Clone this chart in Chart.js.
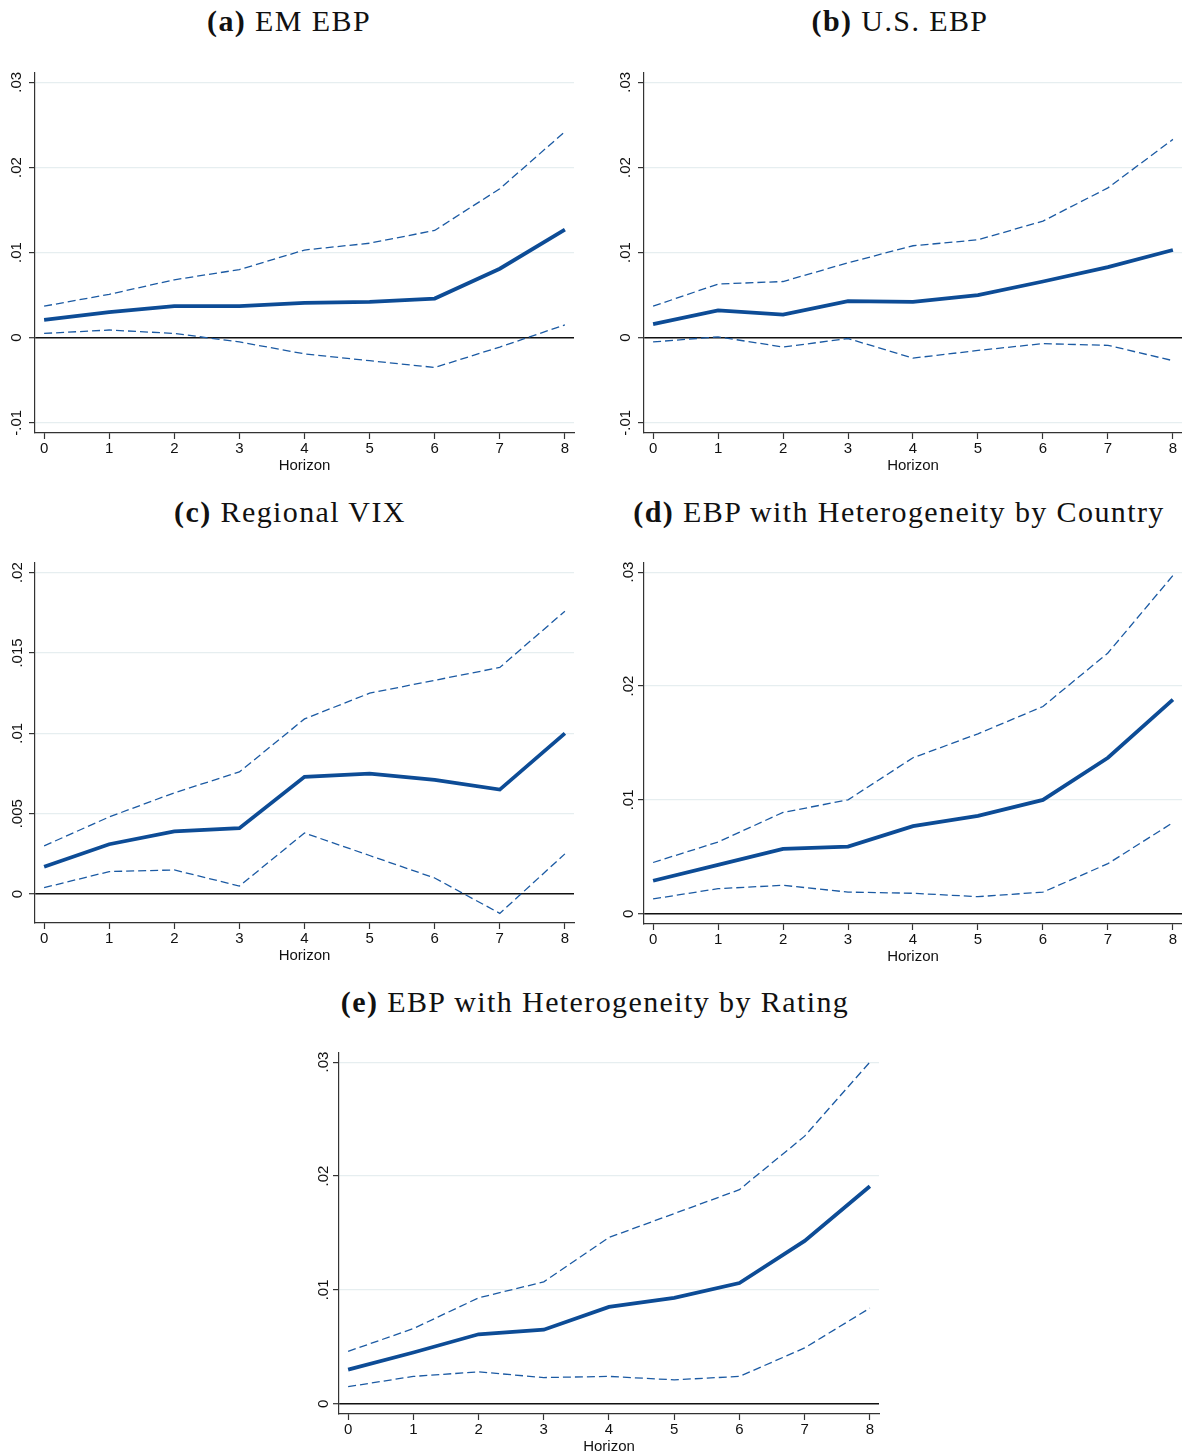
<!DOCTYPE html>
<html>
<head>
<meta charset="utf-8">
<script src="https://cdn.jsdelivr.net/npm/chart.js@4.4.1/dist/chart.umd.min.js"></script>
<style>
  body { margin: 0; background: #fff; width: 1182px; height: 1456px; position: relative; overflow: hidden; }
  .panel { position: absolute; }
  .ttl { position: absolute; font-family: "Liberation Serif", "DejaVu Serif", serif; font-size: 30px; letter-spacing: 1.4px; color: #111; white-space: nowrap; transform: translateX(-50%); line-height: 1; }
  .ttl b { font-weight: bold; }
</style>
</head>
<body>
<div class="ttl" style="left:289px; top:6px;"><b>(a)</b> EM EBP</div>
<div class="ttl" style="left:900px; top:6px;"><b>(b)</b> U.S. EBP</div>
<div class="ttl" style="left:290px; top:497px;"><b>(c)</b> Regional VIX</div>
<div class="ttl" style="left:899px; top:497px;"><b>(d)</b> EBP with Heterogeneity by Country</div>
<div class="ttl" style="left:595px; top:987px;"><b>(e)</b> EBP with Heterogeneity by Rating</div>
<script>
// horizons on the x axis
const horizon = [0, 1, 2, 3, 4, 5, 6, 7, 8];

// (a) EM EBP
const emIrf   = [0.0021, 0.0030, 0.0037, 0.0037, 0.0041, 0.0042, 0.0046, 0.0081, 0.0127];
const emUpper = [0.0037, 0.0051, 0.0068, 0.0080, 0.0103, 0.0111, 0.0126, 0.0175, 0.0242];
const emLower = [0.0005, 0.0009, 0.0005, -0.0005, -0.0019, -0.0027, -0.0035, -0.0011, 0.0015];

// (b) U.S. EBP
const usIrf   = [0.0016, 0.0032, 0.0027, 0.0043, 0.0042, 0.0050, 0.0066, 0.0083, 0.0103];
const usUpper = [0.0037, 0.0063, 0.0066, 0.0088, 0.0108, 0.0115, 0.0137, 0.0176, 0.0233];
const usLower = [-0.0005, 0.0001, -0.0011, -0.0001, -0.0024, -0.0015, -0.0007, -0.0009, -0.0027];

// (c) Regional VIX
const vixIrf   = [0.0017, 0.0031, 0.0039, 0.0041, 0.0073, 0.0075, 0.0071, 0.0065, 0.0100];
const vixUpper = [0.0030, 0.0048, 0.0063, 0.0076, 0.0109, 0.0125, 0.0133, 0.0141, 0.0176];
const vixLower = [0.0004, 0.0014, 0.0015, 0.0005, 0.0038, 0.0024, 0.0010, -0.0012, 0.0025];

// (d) EBP with heterogeneity by country
const ctyIrf   = [0.0029, 0.0043, 0.0057, 0.0059, 0.0077, 0.0086, 0.0100, 0.0137, 0.0188];
const ctyUpper = [0.0045, 0.0063, 0.0089, 0.0100, 0.0137, 0.0158, 0.0182, 0.0229, 0.0297];
const ctyLower = [0.0013, 0.0022, 0.0025, 0.0019, 0.0018, 0.0015, 0.0019, 0.0044, 0.0080];

// (e) EBP with heterogeneity by rating
const ratIrf   = [0.0030, 0.0045, 0.0061, 0.0065, 0.0085, 0.0093, 0.0106, 0.0143, 0.0191];
const ratUpper = [0.0046, 0.0066, 0.0093, 0.0107, 0.0146, 0.0167, 0.0188, 0.0235, 0.0300];
const ratLower = [0.0015, 0.0024, 0.0028, 0.0023, 0.0024, 0.0021, 0.0024, 0.0049, 0.0084];

// y tick values and labels
const ticksWide   = [-0.01, 0, 0.01, 0.02, 0.03];
const labelsWide  = ['-.01', '0', '.01', '.02', '.03'];
const ticksVix    = [0, 0.005, 0.01, 0.015, 0.02];
const labelsVix   = ['0', '.005', '.01', '.015', '.02'];
const ticksPos    = [0, 0.01, 0.02, 0.03];
const labelsPos   = ['0', '.01', '.02', '.03'];

const LINE = '#0d4c96';
const DASH = '#1b5aa3';
const YW = 35, PADTOP = 12, XH = 42, PADR = 4;

function makePanel(id, area, yr, irf, upper, lower, tickVals, tickLabels, labelPad) {
    //area = chart area in page pixels [left, top, right, bottom]
    let w = area[2] - area[0] + YW + PADR;
    let h = area[3] - area[1] + PADTOP + XH;
    let div = document.createElement('div');
    div.className = 'panel';
    div.style.left = (area[0] - YW) + 'px';
    div.style.top = (area[1] - PADTOP) + 'px';
    div.style.width = w + 'px';
    div.style.height = h + 'px';
    document.body.appendChild(div);
    let cv = document.createElement('canvas');
    cv.id = id;
    cv.width = w;
    cv.height = h;
    div.appendChild(cv);

    let pts = arr => horizon.map((hz, i) => ({x: hz, y: arr[i]}));

    new Chart(cv.getContext('2d'), {
        type: 'line',
        data: {
            datasets: [
                { data: pts(upper), borderColor: DASH, borderWidth: 1.3, borderDash: [8, 4], pointRadius: 0, tension: 0, fill: false },
                { data: pts(lower), borderColor: DASH, borderWidth: 1.3, borderDash: [8, 4], pointRadius: 0, tension: 0, fill: false },
                { data: pts(irf), borderColor: LINE, borderWidth: 3.8, pointRadius: 0, tension: 0, fill: false }
            ]
        },
        options: {
            responsive: false,
            animation: false,
            devicePixelRatio: 1,
            events: [],
            layout: { padding: { top: PADTOP, right: PADR, left: 0, bottom: 0 } },
            plugins: { legend: { display: false }, tooltip: { enabled: false }, title: { display: false } },
            scales: {
                x: {
                    type: 'linear',
                    min: -0.14,
                    max: 8.14,
                    afterBuildTicks: s => { s.ticks = horizon.map(v => ({value: v})); },
                    afterFit: s => { s.height = XH; },
                    border: { color: '#333', width: 1.2 },
                    grid: { drawOnChartArea: false, drawTicks: true, tickLength: 6, tickColor: '#333', tickWidth: 1.2 },
                    ticks: { color: '#111', font: { family: "'Liberation Sans', Arial, sans-serif", size: 15 }, padding: 1, maxRotation: 0, callback: v => String(v) },
                    title: { display: true, text: 'Horizon', color: '#111', font: { family: "'Liberation Sans', Arial, sans-serif", size: 15 }, padding: { top: 0, bottom: 0 } }
                },
                y: {
                    type: 'linear',
                    min: yr[0],
                    max: yr[1],
                    afterBuildTicks: s => { s.ticks = tickVals.map(v => ({value: v})); },
                    afterFit: s => { s.width = YW; },
                    border: { color: '#333', width: 1.2 },
                    grid: {
                        drawTicks: true, tickLength: 6, tickColor: '#333', tickWidth: 1.2,
                        color: c => (c.tick && c.tick.value === 0) ? '#111' : '#e6eef0',
                        lineWidth: c => (c.tick && c.tick.value === 0) ? 1.4 : 1.2
                    },
                    ticks: {
                        color: '#111', font: { family: "'Liberation Sans', Arial, sans-serif", size: 15 },
                        minRotation: 90, maxRotation: 90, crossAlign: 'center', padding: labelPad,
                        callback: v => { let k = tickVals.indexOf(v); return k >= 0 ? tickLabels[k] : ''; }
                    }
                }
            }
        }
    });
}

makePanel('chartA', [35, 73, 574, 433], [-0.0112, 0.0311], emIrf, emUpper, emLower, ticksWide, labelsWide, -1);
makePanel('chartB', [644, 73, 1182, 433], [-0.0112, 0.0311], usIrf, usUpper, usLower, ticksWide, labelsWide, -1);
makePanel('chartC', [35, 563, 574, 923], [-0.0018, 0.0206], vixIrf, vixUpper, vixLower, ticksVix, labelsVix, -3);
makePanel('chartD', [644, 563, 1182, 924], [-0.0009, 0.0308], ctyIrf, ctyUpper, ctyLower, ticksPos, labelsPos, -1);
makePanel('chartE', [339, 1053, 879, 1414], [-0.0009, 0.0308], ratIrf, ratUpper, ratLower, ticksPos, labelsPos, -1);
</script>
</body>
</html>
